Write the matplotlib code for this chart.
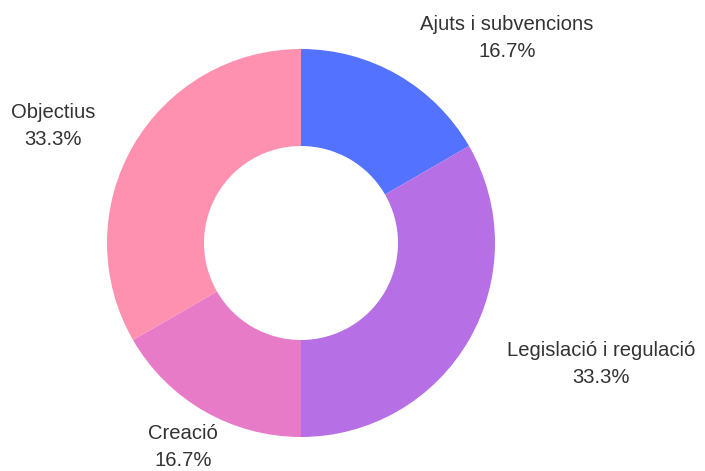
import matplotlib
matplotlib.use('Agg')
import matplotlib.pyplot as plt

# Data
categories = ['Ajuts i subvencions', 'Legislació i regulació', 'Creació', 'Objectius']
values = [1, 2, 1, 2]
colors = ['#5272ff', '#b76fe6', '#e77bc8', '#ff91b0']

# label anchor positions in pixels (x, y from top)
label_pos = [(507, 38), (601, 364), (183, 447), (53, 126)]

plt.rcParams['font.family'] = ['Liberation Sans', 'DejaVu Sans']

fig = plt.figure(figsize=(7.05, 4.71), dpi=100)
ax = fig.add_axes([0, 0, 1, 1])

H = 471
ax.pie(values, colors=colors, startangle=90, counterclock=False,
       center=(301, H - 243), radius=194, frame=True,
       wedgeprops=dict(width=97, linewidth=0))
ax.set_xlim(0, 705)
ax.set_ylim(0, 471)
ax.axis('off')

total = sum(values)
for name, v, (x, y) in zip(categories, values, label_pos):
    pct = 100 * v / total
    ax.text(x, H - y, f'{name}\n{pct:.1f}%', ha='center', va='center',
            fontsize=14.6, color='#333333', linespacing=1.55)

plt.savefig('out.png', dpi=100)
